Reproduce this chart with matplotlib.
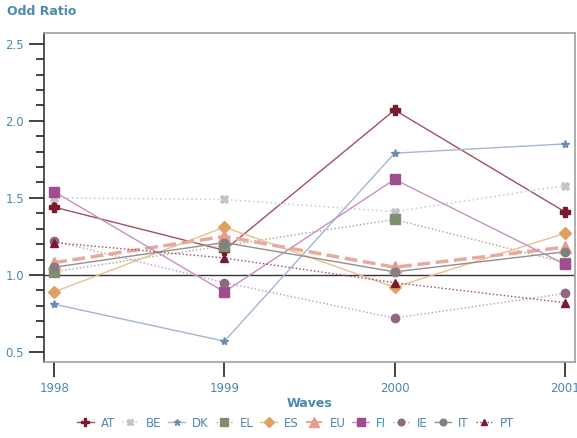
import numpy as np
import matplotlib
matplotlib.use("Agg")
import matplotlib.pyplot as plt
from matplotlib.ticker import MultipleLocator

waves = [1998, 1999, 2000, 2001]

# odd ratios per country
AT = [1.44, 1.16, 2.07, 1.41]
BE = [1.50, 1.49, 1.41, 1.58]
DK = [0.81, 0.57, 1.79, 1.85]
EL = [1.02, 1.19, 1.36, 1.08]
ES = [0.89, 1.31, 0.92, 1.27]
EU = [1.08, 1.25, 1.05, 1.18]
FI = [1.54, 0.89, 1.62, 1.07]
IE = [1.22, 0.95, 0.72, 0.88]
IT = [1.05, 1.21, 1.02, 1.15]
PT = [1.21, 1.11, 0.95, 0.82]

blue = "#4a8ab0"

# (name, values, line colour, marker colour, marker, linestyle, linewidth, markersize)
series = [
    ("AT", AT, "#a0525e", "#7b1a2e", "P", "-", 1.0, 6.5),
    ("BE", BE, "#d0d0d0", "#c4c4c4", "X", ":", 1.2, 5.5),
    ("DK", DK, "#a4b6d2", "#6c8cb6", "*", "-", 1.0, 6),
    ("EL", EL, "#a0a890", "#7f8f6f", "s", ":", 1.0, 6.5),
    ("ES", ES, "#ecc08c", "#e0a060", "D", "-", 1.0, 6),
    ("EU", EU, "#eba89c", "#e89a8c", "^", "--", 2.5, 8.5),
    ("FI", FI, "#c890c0", "#a04c90", "s", "-", 1.0, 6.5),
    ("IE", IE, "#c09cb4", "#8e6a82", "o", ":", 1.0, 6),
    ("IT", IT, "#909090", "#808080", "o", "-", 1.0, 6),
    ("PT", PT, "#9a4a5a", "#7b1a2e", "^", ":", 1.0, 6),
]

fig = plt.figure(figsize=(5.77, 4.38), dpi=100)
ax = fig.add_axes([0.0763, 0.1735, 0.9202, 0.7512])

ax.axhline(1.0, color="#333333", lw=1.0, zorder=1)

handles = []
for name, vals, lc, mc, mk, ls, lw, ms in series:
    ax.plot(waves, vals, color=lc, ls=ls, lw=lw, zorder=2)
    ax.plot(waves, vals, ls="none", marker=mk, color=mc, ms=ms,
            markeredgecolor=mc, zorder=3)
    h, = ax.plot([], [], color=lc, ls=ls, lw=min(lw, 1.5), marker=mk,
                 markerfacecolor=mc, markeredgecolor=mc, ms=ms * 0.8)
    h.set_label(name)
    handles.append(h)

ax.set_xlim(1997.94, 2001.06)
ax.set_ylim(0.435, 2.57)
ax.set_xticks(waves)
ax.set_yticks([0.5, 1.0, 1.5, 2.0, 2.5])
ax.yaxis.set_minor_locator(MultipleLocator(0.1))
ax.tick_params(axis="both", which="major", direction="out", length=11,
               width=1.2, color="#222222", labelcolor=blue, labelsize=8.5)
ax.tick_params(axis="y", which="minor", direction="out", length=6,
               width=1.2, color="#222222")
ax.yaxis.set_major_formatter(plt.FuncFormatter(lambda v, p: f"{v:.1f}"))

ax.spines["left"].set_color("#333333")
ax.spines["left"].set_linewidth(1.2)
for s in ("top", "right", "bottom"):
    ax.spines[s].set_color("#a0a0a0")
    ax.spines[s].set_linewidth(1.2)

ax.set_xlabel("Waves", color=blue, fontweight="bold", fontsize=9, labelpad=1)
fig.text(0.012, 0.965, "Odd Ratio", color=blue, fontweight="bold", fontsize=9)

fig.legend(handles=handles, loc="lower center", bbox_to_anchor=(0.512, -0.005),
           ncol=10, frameon=False, fontsize=8.5, labelcolor=blue,
           handlelength=1.4, handletextpad=0.6, columnspacing=0.6)

fig.savefig("out.png", dpi=100)
